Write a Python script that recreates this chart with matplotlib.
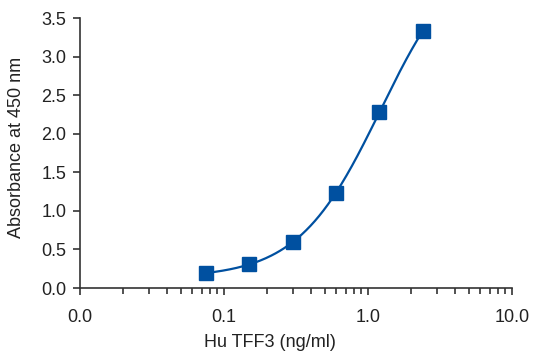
import numpy as np
import matplotlib.pyplot as plt
from matplotlib.ticker import FixedLocator, LogLocator, NullFormatter

# Standard curve data:
conc = [0.075, 0.15, 0.3, 0.6, 1.2, 2.4]
absorb = [0.19, 0.31, 0.60, 1.23, 2.28, 3.33]
xtick_vals = [0.01, 0.1, 1.0, 10.0]
xtick_labels = ["0.0", "0.1", "1.0", "10.0"]
ytick_vals = [0.0, 0.5, 1.0, 1.5, 2.0, 2.5, 3.0, 3.5]

blue = "#0050a0"
dark = "#333333"

plt.rcParams['font.family'] = ['Liberation Sans', 'DejaVu Sans']

# 4-parameter logistic fit (simple Levenberg-Marquardt):
def fourpl(p, x):
    a, b, c, d = p
    return d + (a - d) / (1 + (x / c) ** b)

def fit_4pl(x, y, p0, iters=500):
    x = np.asarray(x); y = np.asarray(y)
    p = np.array(p0, dtype=float)
    lam = 1e-2
    for _ in range(iters):
        r = y - fourpl(p, x)
        J = np.zeros((len(x), 4))
        for k in range(4):
            dp = np.zeros(4); dp[k] = 1e-6 * max(abs(p[k]), 1)
            J[:, k] = (fourpl(p + dp, x) - fourpl(p - dp, x)) / (2 * dp[k])
        A = J.T @ J
        step = np.linalg.solve(A + lam * np.diag(np.diag(A)), J.T @ r)
        pn = p + step
        if pn[2] > 0 and np.sum((y - fourpl(pn, x))**2) < np.sum(r**2):
            p = pn; lam *= 0.5
        else:
            lam *= 4
    return p

params = fit_4pl(conc, absorb, [0.1, 1.5, 2.0, 6.0])

fig = plt.figure(figsize=(5.6, 3.56), dpi=100)
ax = fig.add_axes([0.143, 0.191, 0.771, 0.758])

xs = np.logspace(np.log10(conc[0]), np.log10(conc[-1]), 200)
ax.plot(xs, fourpl(params, xs), color=blue, lw=1.6, zorder=2)
ax.plot(conc, absorb, ls="none", marker="s", ms=9.5, color=blue, zorder=3)

ax.set_xscale("log")
ax.set_xlim(0.01, 10)
ax.set_ylim(0, 3.5)
ax.xaxis.set_major_locator(FixedLocator(xtick_vals))
ax.set_xticklabels(xtick_labels)
ax.xaxis.set_minor_locator(LogLocator(base=10, subs=np.arange(2, 10)))
ax.xaxis.set_minor_formatter(NullFormatter())
ax.set_yticks(ytick_vals)
ax.set_yticklabels([f"{v:.1f}" for v in ytick_vals])

for s in ["top", "right"]:
    ax.spines[s].set_visible(False)
for s in ["left", "bottom"]:
    ax.spines[s].set_color(dark)
    ax.spines[s].set_linewidth(1.2)

ax.tick_params(which="major", length=5, width=1.2, color=dark, labelsize=13,
               labelcolor="#222222", pad=5)
ax.tick_params(axis="x", which="minor", length=4, width=1.2, color=dark)
ax.tick_params(axis="x", which="major", pad=10)

ax.set_xlabel("Hu TFF3 (ng/ml)", fontsize=13, color="#222222")
ax.set_ylabel("Absorbance at 450 nm", fontsize=13, color="#222222")
ax.xaxis.set_label_coords(0.44, -0.17)
ax.yaxis.set_label_coords(-0.127, 0.52)

fig.savefig("out.png", dpi=100)
